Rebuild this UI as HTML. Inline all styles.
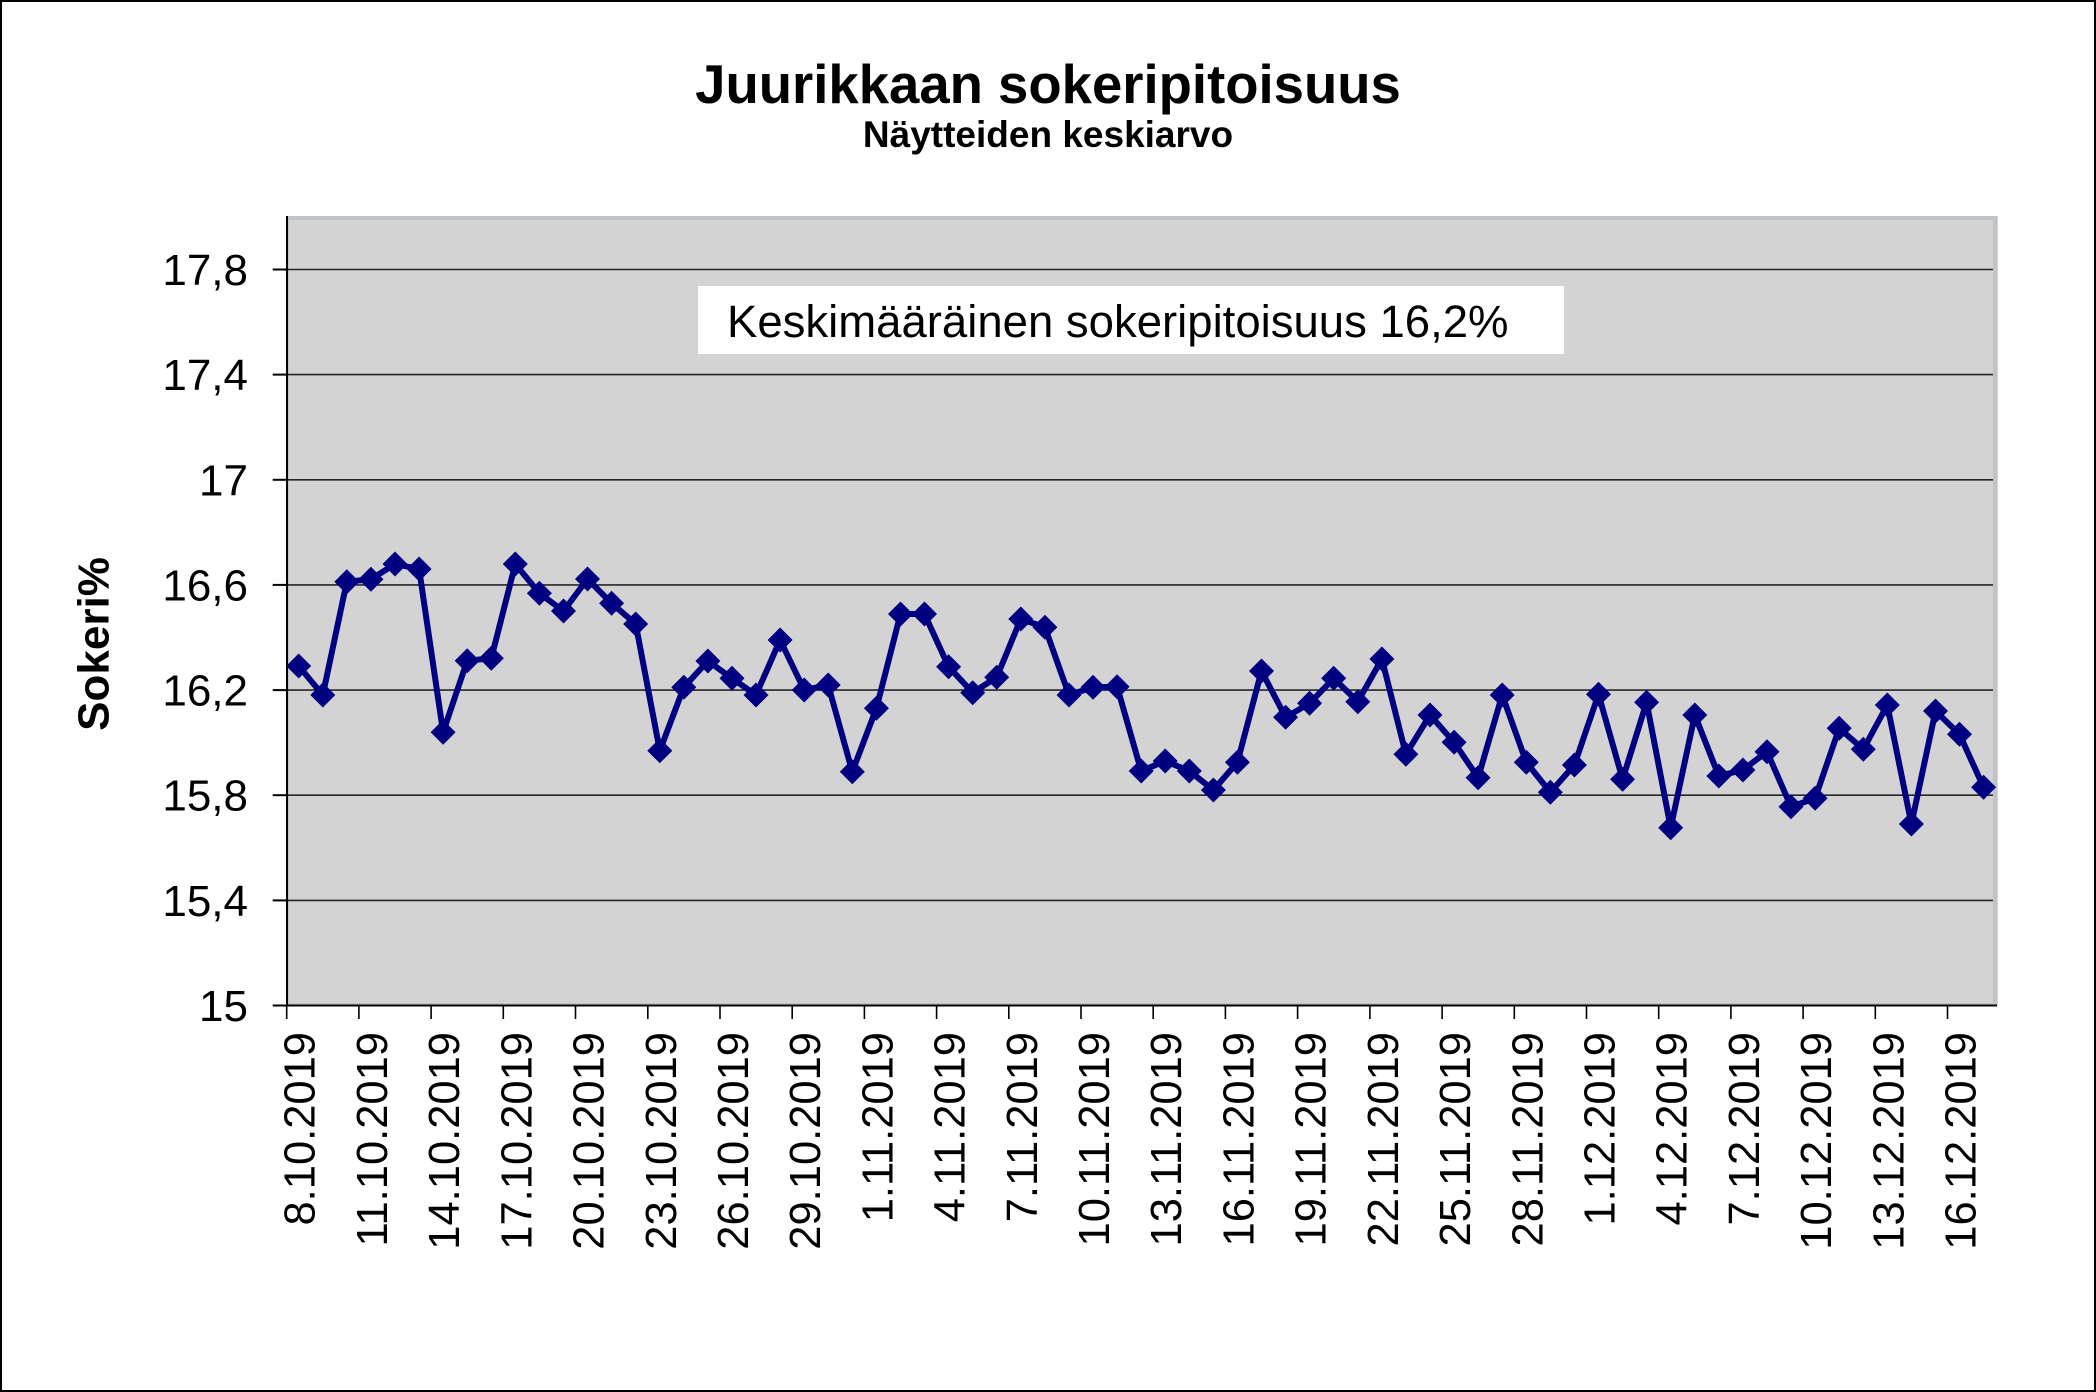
<!DOCTYPE html>
<html>
<head>
<meta charset="utf-8">
<style>
html,body{margin:0;padding:0;background:#fff;}
body{width:2096px;height:1392px;overflow:hidden;}
svg{display:block;}
text{font-family:"Liberation Sans",Arial,sans-serif;fill:#000;}
</style>
</head>
<body>
<svg width="2096" height="1392" viewBox="0 0 2096 1392" xmlns="http://www.w3.org/2000/svg">
  <rect x="0" y="0" width="2096" height="1392" fill="#fff"/>
  <rect x="1" y="1" width="2094" height="1390" fill="none" stroke="#000" stroke-width="2"/>

  <!-- Titles -->
  <text x="1048" y="103" font-size="54.5" font-weight="bold" text-anchor="middle">Juurikkaan sokeripitoisuus</text>
  <text x="1048" y="147" font-size="37" font-weight="bold" text-anchor="middle">Näytteiden keskiarvo</text>

  <!-- Plot area -->
  <rect x="286.7" y="216" width="1711" height="790" fill="#c0c4c8"/>
  <rect x="289" y="220" width="1704" height="783" fill="#d3d3d3"/>

  <!-- Gridlines -->
  <g stroke="#262626" stroke-width="1.6">
    <line x1="287" y1="269.5" x2="1993" y2="269.5"/>
    <line x1="287" y1="374.6" x2="1993" y2="374.6"/>
    <line x1="287" y1="479.8" x2="1993" y2="479.8"/>
    <line x1="287" y1="584.9" x2="1993" y2="584.9"/>
    <line x1="287" y1="690.1" x2="1993" y2="690.1"/>
    <line x1="287" y1="795.2" x2="1993" y2="795.2"/>
    <line x1="287" y1="900.4" x2="1993" y2="900.4"/>
  </g>

  <!-- Axes -->
  <g stroke="#000" stroke-width="2">
    <line x1="287" y1="216" x2="287" y2="1006"/>
    <line x1="272.7" y1="1005.5" x2="1997" y2="1005.5"/>
    <!-- y ticks -->
    <line x1="272.7" y1="269.5" x2="287" y2="269.5"/>
    <line x1="272.7" y1="374.6" x2="287" y2="374.6"/>
    <line x1="272.7" y1="479.8" x2="287" y2="479.8"/>
    <line x1="272.7" y1="584.9" x2="287" y2="584.9"/>
    <line x1="272.7" y1="690.1" x2="287" y2="690.1"/>
    <line x1="272.7" y1="795.2" x2="287" y2="795.2"/>
    <line x1="272.7" y1="900.4" x2="287" y2="900.4"/>
  </g>
  <g stroke="#000" stroke-width="1.6">
    <line x1="286.7" y1="1005" x2="286.7" y2="1019"/>
    <line x1="358.9" y1="1005" x2="358.9" y2="1019"/>
    <line x1="431.1" y1="1005" x2="431.1" y2="1019"/>
    <line x1="503.3" y1="1005" x2="503.3" y2="1019"/>
    <line x1="575.5" y1="1005" x2="575.5" y2="1019"/>
    <line x1="647.8" y1="1005" x2="647.8" y2="1019"/>
    <line x1="720.0" y1="1005" x2="720.0" y2="1019"/>
    <line x1="792.2" y1="1005" x2="792.2" y2="1019"/>
    <line x1="864.4" y1="1005" x2="864.4" y2="1019"/>
    <line x1="936.6" y1="1005" x2="936.6" y2="1019"/>
    <line x1="1008.8" y1="1005" x2="1008.8" y2="1019"/>
    <line x1="1081.0" y1="1005" x2="1081.0" y2="1019"/>
    <line x1="1153.2" y1="1005" x2="1153.2" y2="1019"/>
    <line x1="1225.4" y1="1005" x2="1225.4" y2="1019"/>
    <line x1="1297.6" y1="1005" x2="1297.6" y2="1019"/>
    <line x1="1369.9" y1="1005" x2="1369.9" y2="1019"/>
    <line x1="1442.1" y1="1005" x2="1442.1" y2="1019"/>
    <line x1="1514.3" y1="1005" x2="1514.3" y2="1019"/>
    <line x1="1586.5" y1="1005" x2="1586.5" y2="1019"/>
    <line x1="1658.7" y1="1005" x2="1658.7" y2="1019"/>
    <line x1="1730.9" y1="1005" x2="1730.9" y2="1019"/>
    <line x1="1803.1" y1="1005" x2="1803.1" y2="1019"/>
    <line x1="1875.3" y1="1005" x2="1875.3" y2="1019"/>
    <line x1="1947.5" y1="1005" x2="1947.5" y2="1019"/>
  </g>

  <!-- Y tick labels -->
  <g font-size="44" text-anchor="end">
    <text x="248" y="285">17,8</text>
    <text x="248" y="390">17,4</text>
    <text x="248" y="495.3">17</text>
    <text x="248" y="600.4">16,6</text>
    <text x="248" y="705.6">16,2</text>
    <text x="248" y="810.7">15,8</text>
    <text x="248" y="915.9">15,4</text>
    <text x="248" y="1021">15</text>
  </g>

  <!-- Y axis title -->
  <text transform="translate(108.5,644) rotate(-90)" font-size="44" font-weight="bold" text-anchor="middle">Sokeri%</text>

  <!-- X labels -->
  <g font-size="43.5" text-anchor="end">
    <text transform="translate(314.7,1032) rotate(-90)">8.10.2019</text>
    <text transform="translate(386.9,1032) rotate(-90)">11.10.2019</text>
    <text transform="translate(459.1,1032) rotate(-90)">14.10.2019</text>
    <text transform="translate(531.3,1032) rotate(-90)">17.10.2019</text>
    <text transform="translate(603.5,1032) rotate(-90)">20.10.2019</text>
    <text transform="translate(675.8,1032) rotate(-90)">23.10.2019</text>
    <text transform="translate(748.0,1032) rotate(-90)">26.10.2019</text>
    <text transform="translate(820.2,1032) rotate(-90)">29.10.2019</text>
    <text transform="translate(892.4,1032) rotate(-90)">1.11.2019</text>
    <text transform="translate(964.6,1032) rotate(-90)">4.11.2019</text>
    <text transform="translate(1036.8,1032) rotate(-90)">7.11.2019</text>
    <text transform="translate(1109.0,1032) rotate(-90)">10.11.2019</text>
    <text transform="translate(1181.2,1032) rotate(-90)">13.11.2019</text>
    <text transform="translate(1253.4,1032) rotate(-90)">16.11.2019</text>
    <text transform="translate(1325.6,1032) rotate(-90)">19.11.2019</text>
    <text transform="translate(1397.9,1032) rotate(-90)">22.11.2019</text>
    <text transform="translate(1470.1,1032) rotate(-90)">25.11.2019</text>
    <text transform="translate(1542.3,1032) rotate(-90)">28.11.2019</text>
    <text transform="translate(1614.5,1032) rotate(-90)">1.12.2019</text>
    <text transform="translate(1686.7,1032) rotate(-90)">4.12.2019</text>
    <text transform="translate(1758.9,1032) rotate(-90)">7.12.2019</text>
    <text transform="translate(1831.1,1032) rotate(-90)">10.12.2019</text>
    <text transform="translate(1903.3,1032) rotate(-90)">13.12.2019</text>
    <text transform="translate(1975.5,1032) rotate(-90)">16.12.2019</text>
  </g>

  <!-- Text box -->
  <rect x="698" y="286" width="866" height="68" fill="#fff"/>
  <text x="727" y="337" font-size="45.5">Keskimääräinen sokeripitoisuus 16,2%</text>

  <!-- Series -->
  <defs>
    <path id="m" d="M0,-12.5 L12.5,0 L0,12.5 L-12.5,0 Z" fill="#000080"/>
  </defs>
  <polyline fill="none" stroke="#000080" stroke-width="6" stroke-linejoin="round" points="
298.7,666.0 322.8,695.0 346.8,581.7 370.9,579.3 395.0,564.0 419.1,569.0 443.1,732.3 467.2,660.7 491.3,658.3 515.3,564.0
539.4,593.3 563.5,611.0 587.5,579.0 611.6,603.3 635.7,624.0 659.8,750.7 683.8,687.3 707.9,661.0 732.0,678.3 756.0,695.0
780.1,640.0 804.2,690.0 828.2,685.0 852.3,771.7 876.4,708.3 900.5,614.0 924.5,614.0 948.6,666.7 972.7,692.7 996.7,677.3
1020.8,619.0 1044.9,627.3 1069.0,695.0 1093.0,687.3 1117.1,686.7 1141.2,771.0 1165.2,761.0 1189.3,771.0 1213.4,790.0 1237.4,762.3
1261.5,671.0 1285.6,717.3 1309.6,703.3 1333.7,678.3 1357.8,701.7 1381.9,659.0 1405.9,754.3 1430.0,715.0 1454.1,742.3 1478.1,777.7
1502.2,695.0 1526.3,762.3 1550.3,792.3 1574.4,765.0 1598.5,694.3 1622.6,779.3 1646.6,702.3 1670.7,827.7 1694.8,715.0 1718.8,776.0
1742.9,770.0 1767.0,751.7 1791.0,806.7 1815.1,798.3 1839.2,728.3 1863.3,749.3 1887.3,705.0 1911.4,824.0 1935.5,711.0 1959.5,734.3
1983.6,787.3"/>
  <g>
    <use href="#m" x="298.7" y="666.0"/><use href="#m" x="322.8" y="695.0"/><use href="#m" x="346.8" y="581.7"/><use href="#m" x="370.9" y="579.3"/><use href="#m" x="395.0" y="564.0"/>
    <use href="#m" x="419.1" y="569.0"/><use href="#m" x="443.1" y="732.3"/><use href="#m" x="467.2" y="660.7"/><use href="#m" x="491.3" y="658.3"/><use href="#m" x="515.3" y="564.0"/>
    <use href="#m" x="539.4" y="593.3"/><use href="#m" x="563.5" y="611.0"/><use href="#m" x="587.5" y="579.0"/><use href="#m" x="611.6" y="603.3"/><use href="#m" x="635.7" y="624.0"/>
    <use href="#m" x="659.8" y="750.7"/><use href="#m" x="683.8" y="687.3"/><use href="#m" x="707.9" y="661.0"/><use href="#m" x="732.0" y="678.3"/><use href="#m" x="756.0" y="695.0"/>
    <use href="#m" x="780.1" y="640.0"/><use href="#m" x="804.2" y="690.0"/><use href="#m" x="828.2" y="685.0"/><use href="#m" x="852.3" y="771.7"/><use href="#m" x="876.4" y="708.3"/>
    <use href="#m" x="900.5" y="614.0"/><use href="#m" x="924.5" y="614.0"/><use href="#m" x="948.6" y="666.7"/><use href="#m" x="972.7" y="692.7"/><use href="#m" x="996.7" y="677.3"/>
    <use href="#m" x="1020.8" y="619.0"/><use href="#m" x="1044.9" y="627.3"/><use href="#m" x="1069.0" y="695.0"/><use href="#m" x="1093.0" y="687.3"/><use href="#m" x="1117.1" y="686.7"/>
    <use href="#m" x="1141.2" y="771.0"/><use href="#m" x="1165.2" y="761.0"/><use href="#m" x="1189.3" y="771.0"/><use href="#m" x="1213.4" y="790.0"/><use href="#m" x="1237.4" y="762.3"/>
    <use href="#m" x="1261.5" y="671.0"/><use href="#m" x="1285.6" y="717.3"/><use href="#m" x="1309.6" y="703.3"/><use href="#m" x="1333.7" y="678.3"/><use href="#m" x="1357.8" y="701.7"/>
    <use href="#m" x="1381.9" y="659.0"/><use href="#m" x="1405.9" y="754.3"/><use href="#m" x="1430.0" y="715.0"/><use href="#m" x="1454.1" y="742.3"/><use href="#m" x="1478.1" y="777.7"/>
    <use href="#m" x="1502.2" y="695.0"/><use href="#m" x="1526.3" y="762.3"/><use href="#m" x="1550.3" y="792.3"/><use href="#m" x="1574.4" y="765.0"/><use href="#m" x="1598.5" y="694.3"/>
    <use href="#m" x="1622.6" y="779.3"/><use href="#m" x="1646.6" y="702.3"/><use href="#m" x="1670.7" y="827.7"/><use href="#m" x="1694.8" y="715.0"/><use href="#m" x="1718.8" y="776.0"/>
    <use href="#m" x="1742.9" y="770.0"/><use href="#m" x="1767.0" y="751.7"/><use href="#m" x="1791.0" y="806.7"/><use href="#m" x="1815.1" y="798.3"/><use href="#m" x="1839.2" y="728.3"/>
    <use href="#m" x="1863.3" y="749.3"/><use href="#m" x="1887.3" y="705.0"/><use href="#m" x="1911.4" y="824.0"/><use href="#m" x="1935.5" y="711.0"/><use href="#m" x="1959.5" y="734.3"/>
    <use href="#m" x="1983.6" y="787.3"/>
  </g>
</svg>
</body>
</html>
